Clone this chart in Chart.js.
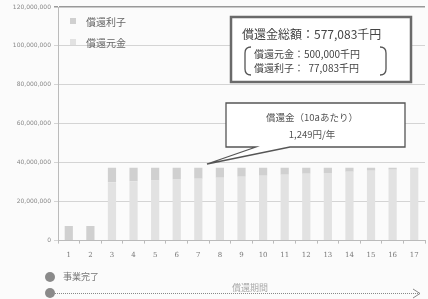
<!DOCTYPE html>
<html>
<head>
<meta charset="utf-8">
<script src="https://cdn.jsdelivr.net/npm/chart.js@4"></script>
<style>
  html, body { margin: 0; padding: 0; background: #fbfbfb; }
  #wrap { width: 428px; height: 299px; position: relative; }
</style>
</head>
<body>
<div id="wrap"><canvas id="repayChart" width="428" height="299"></canvas></div>
<script>
// Years (x categories)
const years = ['1','2','3','4','5','6','7','8','9','10','11','12','13','14','15','16','17'];

// 償還元金 (principal) per year, yen
const principal = [0, 0, 29980000, 30430000, 30890000, 31350000, 31820000, 32300000, 32780000,
  33270000, 33770000, 34280000, 34790000, 35310000, 35840000, 36380000, 36930000];

// 償還利子 (interest) per year, yen
const interest = [7500000, 7500000, 7500000, 7050000, 6590000, 6130000, 5660000, 5180000, 4700000,
  4210000, 3710000, 3200000, 2690000, 2170000, 1640000, 1100000, 550000];

const seriesNames = ['償還利子', '償還元金'];
const summaryLines = ['償還金総額：577,083千円', '償還元金：500,000千円', '償還利子：  77,083千円'];
const calloutLines = ['償還金（10aあたり）', '1,249円/年'];
const timelineLabels = ['事業完了', '償還期間'];

const FONT = '"Noto Sans CJK JP", "Noto Sans", sans-serif';

// Draws the legend, annotation boxes and timeline on top of the chart
const decorations = {
    id: 'decorations',
    afterDraw(chart) {
        const c = chart.ctx;
        c.save();

        // legend
        c.font = '10px ' + FONT;
        c.textBaseline = 'middle';
        c.fillStyle = '#d0d0d0';
        c.fillRect(70, 18, 6, 6);
        c.fillStyle = '#e2e2e2';
        c.fillRect(70, 39, 6, 6);
        c.fillStyle = '#666';
        c.fillText(seriesNames[0], 86, 22);
        c.fillText(seriesNames[1], 86, 43);

        // summary box
        c.fillStyle = '#ffffff';
        c.fillRect(231, 17, 180, 65);
        c.strokeStyle = '#6a6a6a';
        c.lineWidth = 2.5;
        c.strokeRect(231, 17, 180, 65);
        c.fillStyle = '#444';
        c.font = '12px ' + FONT;
        c.fillText(summaryLines[0], 242, 34);
        c.font = '10px ' + FONT;
        c.fillText(summaryLines[1], 254, 54);
        c.fillText(summaryLines[2], 254, 68);
        // brackets
        c.lineWidth = 1.3;
        c.strokeStyle = '#555';
        c.beginPath();
        c.moveTo(251, 47); c.quadraticCurveTo(245, 47, 245, 53);
        c.lineTo(245, 69); c.quadraticCurveTo(245, 75, 251, 75);
        c.moveTo(380, 47); c.quadraticCurveTo(386, 47, 386, 53);
        c.lineTo(386, 69); c.quadraticCurveTo(386, 75, 380, 75);
        c.stroke();

        // callout
        c.beginPath();
        c.moveTo(226, 103);
        c.lineTo(405, 103);
        c.lineTo(405, 147);
        c.lineTo(290, 147);
        c.lineTo(207, 164);
        c.lineTo(256, 147);
        c.lineTo(226, 147);
        c.closePath();
        c.fillStyle = '#ffffff';
        c.fill();
        c.strokeStyle = '#555';
        c.lineWidth = 1.3;
        c.stroke();
        c.fillStyle = '#555';
        c.font = '9.5px ' + FONT;
        c.textAlign = 'center';
        c.fillText(calloutLines[0], 312, 117);
        c.fillText(calloutLines[1], 312, 134);

        // timeline
        c.textAlign = 'left';
        c.fillStyle = '#8a8a8a';
        c.beginPath(); c.arc(50, 277, 5, 0, Math.PI * 2); c.fill();
        c.beginPath(); c.arc(50, 293, 5, 0, Math.PI * 2); c.fill();
        c.fillStyle = '#777';
        c.font = '9px ' + FONT;
        c.fillText(timelineLabels[0], 63, 277);
        c.fillStyle = '#aaa';
        c.textAlign = 'center';
        c.fillText(timelineLabels[1], 250, 288);
        c.strokeStyle = '#888';
        c.lineWidth = 1;
        c.setLineDash([1, 1]);
        c.beginPath(); c.moveTo(55, 293.5); c.lineTo(420, 293.5); c.stroke();
        c.setLineDash([]);
        c.beginPath(); c.moveTo(413, 289); c.lineTo(420, 293.5); c.lineTo(413, 298); c.stroke();

        c.restore();
    }
};

const ctx = document.getElementById('repayChart').getContext('2d');
const chart = new Chart(ctx, {
    type: 'bar',
    data: {
        labels: years,
        datasets: [
            {
                label: seriesNames[1],
                data: principal,
                backgroundColor: '#e2e2e2',
                stack: 's',
                barPercentage: 0.4,
                categoryPercentage: 0.95
            },
            {
                label: seriesNames[0],
                data: interest,
                backgroundColor: '#d0d0d0',
                stack: 's',
                barPercentage: 0.4,
                categoryPercentage: 0.95
            }
        ]
    },
    options: {
        responsive: false,
        animation: false,
        layout: { padding: { left: 0, right: 3, top: 7, bottom: 33 } },
        plugins: {
            legend: { display: false },
            tooltip: { enabled: false }
        },
        scales: {
            x: {
                stacked: true,
                grid: { display: true, drawOnChartArea: false, tickLength: 3, color: '#bbb' },
                border: { color: '#bbb' },
                ticks: { color: '#777', font: { size: 7, family: 'DejaVu Serif' }, padding: 7 }
            },
            y: {
                stacked: true,
                min: 0,
                max: 120000000,
                afterFit(scale) { scale.width = 58; },
                grid: {
                    color: ctx => ctx.tick && ctx.tick.value === 120000000 ? '#999' : '#d4d4d4',
                    lineWidth: ctx => ctx.tick && ctx.tick.value === 120000000 ? 1.5 : 1,
                    drawTicks: true,
                    tickLength: 4
                },
                border: { color: '#bbb' },
                ticks: {
                    stepSize: 20000000,
                    color: '#888',
                    font: { size: 6, family: 'DejaVu Sans' },
                    callback: v => v.toLocaleString('en-US')
                }
            }
        }
    },
    plugins: [decorations]
});
</script>
</body>
</html>
